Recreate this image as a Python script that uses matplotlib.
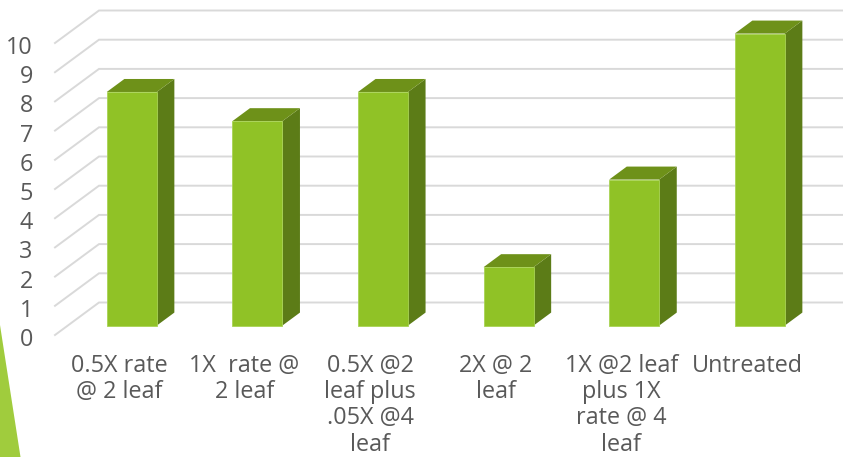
import matplotlib
matplotlib.use("Agg")
import matplotlib.pyplot as plt
from matplotlib.patches import Polygon
from matplotlib.transforms import ScaledTranslation

plt.rcParams["font.family"] = "Open Sans"

categories = [
    "0.5X rate\n@ 2 leaf",
    "1X  rate @\n2 leaf",
    "0.5X @2\nleaf plus\n.05X @4\nleaf",
    "2X @ 2\nleaf",
    "1X @2 leaf\nplus 1X\nrate @ 4\nleaf",
    "Untreated",
]
values = [8, 7, 8, 2, 5, 10]
y_ticks = list(range(0, 11))

W, H = 843, 457
LEFT, RIGHT, TOP, BOTTOM = 55, 843, 10.5, 335
STEP_X = 125.6          # pixels between categories
UNIT_Y = 29.2           # pixels per value unit
FLOOR_DX, FLOOR_DY = 44, 32.5   # pixel shift from the front of the floor to the back
BAR_FRONT, BAR_BACK = 0.29, 0.69
BAR_W = 50 / STEP_X

TEXT = "#595959"
GRID = "#d9d9d9"
FACE = "#90c226"
SIDE = "#5c7c17"
ROOF = "#6e9119"
ACCENT = "#a0cc3d"

fig = plt.figure(figsize=(W / 100, H / 100), dpi=100)

# Decorative wedge in the lower-left corner
fig.add_artist(Polygon([(0, 0), (20.5 / W, 0), (0, (H - 325) / H)],
                       closed=True, transform=fig.transFigure,
                       facecolor=ACCENT, edgecolor="none"))

ax = fig.add_axes([LEFT / W, (H - BOTTOM) / H, (RIGHT - LEFT) / W, (BOTTOM - TOP) / H])
ax.patch.set_alpha(0)
ax.set_xlim(-(119 - LEFT) / STEP_X, (RIGHT - 119) / STEP_X)
ax.set_ylim(0, (BOTTOM - TOP) / UNIT_Y)
for spine in ax.spines.values():
    spine.set_visible(False)


def project(x, v, depth):
    """Map a category position, value and floor depth to oblique data coordinates."""
    return x + depth * FLOOR_DX / STEP_X, v + depth * FLOOR_DY / UNIT_Y


# Gridlines: a diagonal on the side wall, then a straight run along the back wall
for v in y_ticks:
    x0 = ax.get_xlim()[0]
    x1, y1 = project(x0, v, 1)
    ax.plot([x0, x1, ax.get_xlim()[1]], [v, y1, y1], color=GRID, lw=1.4,
            solid_joinstyle="miter", zorder=1, clip_on=False)

# Oblique bars
for i, v in enumerate(values):
    left = i - BAR_W / 2
    right = i + BAR_W / 2
    fl = project(left, 0, BAR_FRONT)
    fr = project(right, 0, BAR_FRONT)
    flt = project(left, v, BAR_FRONT)
    frt = project(right, v, BAR_FRONT)
    br = project(right, 0, BAR_BACK)
    brt = project(right, v, BAR_BACK)
    blt = project(left, v, BAR_BACK)
    ax.add_patch(Polygon([fr, br, brt, frt], closed=True, facecolor=SIDE, edgecolor="none", zorder=2))
    ax.add_patch(Polygon([flt, frt, brt, blt], closed=True, facecolor=ROOF, edgecolor="none", zorder=2))
    ax.add_patch(Polygon([fl, fr, frt, flt], closed=True, facecolor=FACE, edgecolor="#a9d355",
                         lw=0.6, zorder=3))

ax.set_yticks(y_ticks)
ax.set_xticks(range(len(categories)))
ax.set_xticklabels(categories, linespacing=1.12)
ax.tick_params(axis="y", length=0, pad=16, labelsize=16.8, labelcolor=TEXT)
ax.tick_params(axis="x", length=0, pad=13.8, labelsize=16.8, labelcolor=TEXT)

# Nudge the value labels down so they sit level with the front ends of the gridlines
nudge = ScaledTranslation(0, -2 / 100, fig.dpi_scale_trans)
for label in ax.get_yticklabels():
    label.set_transform(label.get_transform() + nudge)

fig.savefig("out.png", dpi=100)
